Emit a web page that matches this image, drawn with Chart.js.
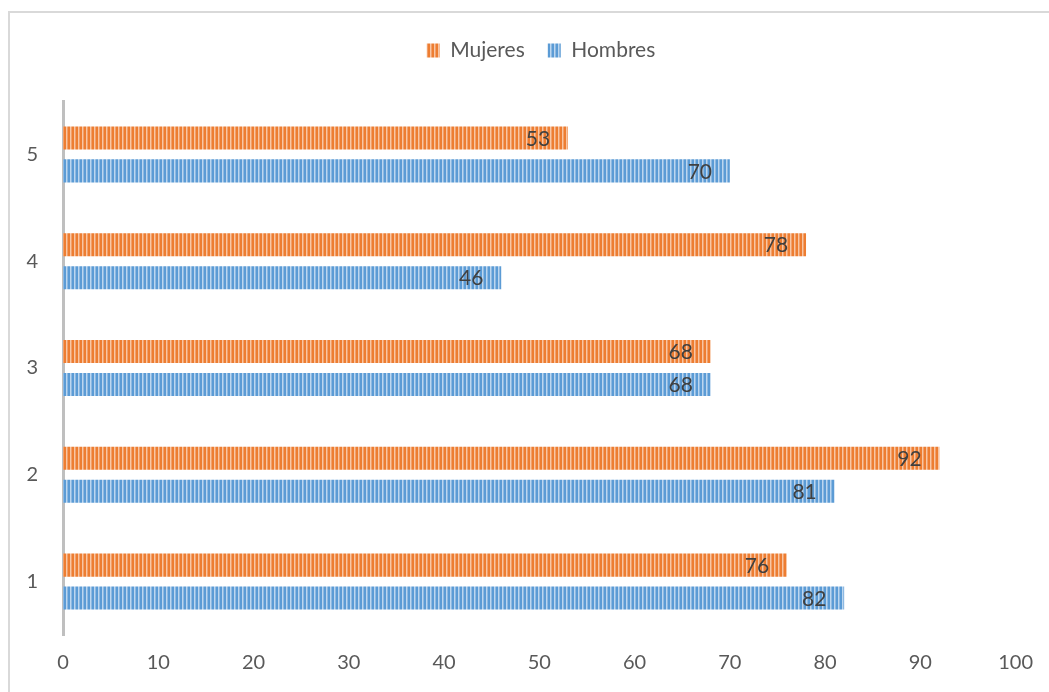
<!DOCTYPE html>
<html><head><meta charset="utf-8">
<script src="https://cdn.jsdelivr.net/npm/chart.js@4.4.1/dist/chart.umd.min.js"></script>
<style>html,body{margin:0;padding:0;background:#fff;overflow:hidden}#wrap{width:1049px;height:692px}</style>
</head><body><div id="wrap"><canvas id="c" width="1049" height="692"></canvas></div>
<script>
const categories = ['1', '2', '3', '4', '5'];
const seriesNames = ['Mujeres', 'Hombres'];
const mujeres = [76, 92, 68, 78, 53];
const hombres = [82, 81, 68, 46, 70];
const xMin = 0, xMax = 100, xStep = 10;

function stripes(cols) {
  const c = document.createElement('canvas');
  c.width = cols.length; c.height = 4;
  const g = c.getContext('2d');
  cols.forEach((col, i) => { g.fillStyle = col; g.fillRect(i, 0, 1, 4); });
  return document.getElementById('c').getContext('2d').createPattern(c, 'repeat');
}
const orangePat = stripes(['#ED7D31', '#ED7D31', '#F8C6A4', '#F2A06A']);
const bluePat = stripes(['#5B9BD5', '#5B9BD5', '#BCD6EF', '#8DB9E2']);

const FONT = 'Lato, "Open Sans", sans-serif';

const frame = {
  id: 'frame',
  beforeDraw(chart) {
    const ctx = chart.ctx;
    ctx.save();
    ctx.fillStyle = '#fff';
    ctx.fillRect(0, 0, chart.width, chart.height);
    ctx.strokeStyle = '#d9d9d9';
    ctx.lineWidth = 2;
    ctx.strokeRect(9, 12, 2000, 2000);
    ctx.restore();
  }
};
const legendSpacer = {
  id: 'legendSpacer',
  beforeInit(chart) {
    const orig = chart.legend.fit;
    chart.legend.fit = function () { orig.call(this); this.height += 30; };
  },
  afterLayout(chart) {
    chart.legend.right += 64;
  }
};
const valueLabels = {
  id: 'valueLabels',
  afterDatasetsDraw(chart) {
    const ctx = chart.ctx;
    ctx.save();
    ctx.font = '21px ' + FONT;
    ctx.fillStyle = '#404040';
    ctx.textAlign = 'center';
    ctx.textBaseline = 'middle';
    chart.data.datasets.forEach((ds, i) => {
      chart.getDatasetMeta(i).data.forEach((bar, j) => {
        ctx.fillText(String(ds.data[j]), bar.x - 30, bar.y + 1);
      });
    });
    ctx.restore();
  }
};

new Chart(document.getElementById('c'), {
  type: 'bar',
  data: {
    labels: categories,
    datasets: [
      { label: seriesNames[0], data: mujeres, backgroundColor: orangePat, borderWidth: 0 },
      { label: seriesNames[1], data: hombres, backgroundColor: bluePat, borderWidth: 0 }
    ]
  },
  options: {
    indexAxis: 'y',
    responsive: false,
    animation: false,
    devicePixelRatio: 1,
    categoryPercentage: 0.617,
    barPercentage: 0.70,
    layout: { padding: { top: 17, right: 31, left: 0, bottom: 0 } },
    plugins: {
      legend: {
        position: 'top',
        labels: { boxWidth: 13, boxHeight: 14, padding: 23, color: '#595959', font: { family: FONT, size: 21 } }
      },
      tooltip: { enabled: false }
    },
    scales: {
      x: {
        min: xMin, max: xMax,
        ticks: { stepSize: xStep, color: '#595959', font: { family: FONT, size: 20 }, padding: 16 },
        grid: { display: false, drawTicks: false },
        border: { display: false },
        afterFit(s) { s.height = 57; }
      },
      y: {
        reverse: true,
        ticks: { color: '#595959', font: { family: FONT, size: 20 }, padding: 25 },
        grid: { display: false, drawTicks: false },
        border: { display: true, color: '#bfbfbf', width: 3 },
        afterFit(s) { s.width = 63; }
      }
    }
  },
  plugins: [frame, legendSpacer, valueLabels]
});
</script>
</body></html>
